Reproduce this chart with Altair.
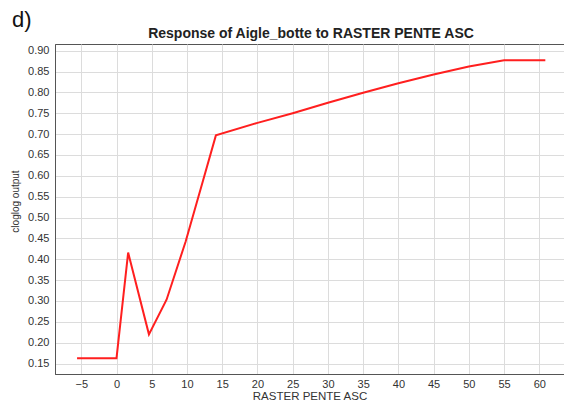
import altair as alt
import pandas as pd

# Response curve: slope value vs cloglog output
slope = [-5.6, 0.0, 1.65, 4.6, 7.1, 9.8, 12.3, 14.1, 20, 25, 30, 35, 40, 45, 50, 55, 60.85]
output = [0.163, 0.163, 0.416, 0.220, 0.303, 0.442, 0.590, 0.697, 0.727, 0.750, 0.775,
          0.799, 0.822, 0.843, 0.862, 0.877, 0.877]

x_ticks = list(range(-5, 61, 5))
y_ticks = [round(0.15 + 0.05 * i, 2) for i in range(16)]

title_text = "Response of Aigle_botte to RASTER PENTE ASC"
panel_label = "d)"

df = pd.DataFrame({"slope": slope, "output": output})

FONT = "Liberation Sans"

line = alt.Chart(df).mark_line(color="#ff1f1f", strokeWidth=2, clip=True).encode(
    x=alt.X(
        "slope:Q",
        scale=alt.Scale(domain=[-8.73, 63.5], nice=False, zero=False),
        axis=alt.Axis(
            values=x_ticks,
            title="RASTER PENTE ASC",
            titleFontSize=11.5,
            titleFontWeight="normal",
            titleColor="#333",
            titlePadding=1,
            labelFontSize=11,
            labelColor="#333",
            labelPadding=4,
            tickSize=0,
            domainColor="#555",
            gridColor="#dcdcdc",
        ),
    ),
    y=alt.Y(
        "output:Q",
        scale=alt.Scale(domain=[0.125, 0.916], nice=False, zero=False),
        axis=alt.Axis(
            values=y_ticks,
            format=".2f",
            title="cloglog output",
            titleFontSize=10,
            titleFontWeight="normal",
            titleColor="#333",
            titleX=-35,
            titleY=157,
            labelFontSize=11,
            labelColor="#333",
            labelPadding=6,
            tickSize=0,
            domainColor="#555",
            gridColor="#dcdcdc",
        ),
    ),
)

heading = alt.Chart(pd.DataFrame({"t": [title_text]})).mark_text(
    fontSize=14, font=FONT, fontWeight="bold", color="#222", align="center", baseline="bottom"
).encode(x=alt.value(256), y=alt.value(-3), text="t:N")

panel_tag = alt.Chart(pd.DataFrame({"t": [panel_label]})).mark_text(
    fontSize=22, font=FONT, color="#111", align="left", baseline="alphabetic"
).encode(x=alt.value(-43), y=alt.value(-17), text="t:N")

chart = (
    alt.layer(line, heading, panel_tag)
    .properties(
        width=509,
        height=330,
        autosize=alt.AutoSizeParams(type="none"),
        padding={"left": 55, "top": 44, "right": 0, "bottom": 31},
    )
    .configure(font=FONT)
    .configure_view(stroke="#555", strokeWidth=1)
    .configure_axis(gridWidth=1)
)

chart.save("out.html", embed_options={"renderer": "svg", "actions": False})
